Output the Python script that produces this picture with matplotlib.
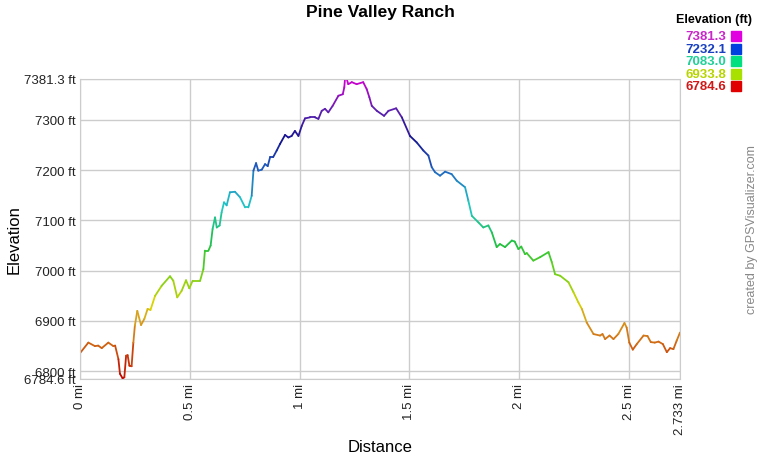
import numpy as np
import matplotlib
matplotlib.use("Agg")
import matplotlib.pyplot as plt
from matplotlib.collections import LineCollection
from matplotlib.colors import LinearSegmentedColormap, Normalize

# profile (distance in miles, elevation in ft)
dist = [0.0, 0.038, 0.068, 0.083, 0.099, 0.129, 0.152, 0.16, 0.175, 0.182, 0.194,
        0.202, 0.21, 0.217, 0.225, 0.235, 0.243, 0.25, 0.261, 0.278, 0.293, 0.308,
        0.321, 0.342, 0.372, 0.41, 0.425, 0.443, 0.463, 0.483, 0.498, 0.513, 0.547,
        0.562, 0.569, 0.585, 0.595, 0.604, 0.615, 0.623, 0.636, 0.645, 0.656, 0.668,
        0.683, 0.706, 0.729, 0.752, 0.767, 0.782, 0.79, 0.802, 0.812, 0.828, 0.843,
        0.855, 0.866, 0.88, 0.896, 0.911, 0.934, 0.949, 0.964, 0.979, 0.995, 1.01,
        1.025, 1.048, 1.07, 1.086, 1.101, 1.116, 1.131, 1.151, 1.177, 1.197, 1.204,
        1.207, 1.215, 1.222, 1.238, 1.26, 1.29, 1.306, 1.318, 1.329, 1.352, 1.385,
        1.405, 1.44, 1.466, 1.503, 1.534, 1.564, 1.587, 1.602, 1.617, 1.64, 1.663,
        1.693, 1.716, 1.754, 1.769, 1.785, 1.815, 1.837, 1.86, 1.876, 1.898, 1.913,
        1.936, 1.967, 1.98, 1.997, 2.01, 2.027, 2.035, 2.065, 2.096, 2.134, 2.149,
        2.164, 2.187, 2.225, 2.248, 2.27, 2.286, 2.308, 2.339, 2.369, 2.38, 2.392,
        2.412, 2.43, 2.452, 2.48, 2.49, 2.502, 2.518, 2.536, 2.567, 2.585, 2.6,
        2.618, 2.635, 2.655, 2.673, 2.688, 2.703, 2.718, 2.733]
elev = [6836, 6857, 6850, 6851, 6846, 6857, 6850, 6851, 6824, 6795, 6786,
        6788, 6831, 6832, 6811, 6810, 6857, 6891, 6920, 6892, 6904, 6924,
        6922, 6950, 6970, 6989, 6980, 6947, 6960, 6981, 6965, 6980, 6980,
        7003, 7040, 7040, 7050, 7083, 7106, 7086, 7090, 7116, 7136, 7130,
        7156, 7157, 7146, 7126, 7126, 7149, 7199, 7214, 7199, 7201, 7212,
        7208, 7226, 7226, 7239, 7252, 7270, 7265, 7268, 7278, 7268, 7288,
        7303, 7305, 7305, 7302, 7318, 7322, 7315, 7328, 7348, 7351, 7365,
        7381, 7381, 7371, 7375, 7371, 7375, 7361, 7345, 7328, 7318, 7308,
        7318, 7323, 7305, 7268, 7255, 7239, 7229, 7206, 7196, 7189, 7197,
        7192, 7179, 7166, 7139, 7109, 7096, 7086, 7090, 7076, 7047, 7053,
        7047, 7060, 7058, 7043, 7048, 7033, 7035, 7020, 7027, 7037, 7017,
        6993, 6990, 6977, 6957, 6937, 6924, 6897, 6874, 6871, 6874, 6864,
        6871, 6864, 6874, 6896, 6887, 6857, 6843, 6854, 6871, 6870, 6858,
        6857, 6859, 6854, 6838, 6846, 6844, 6861, 6877]

y_ticks = [6784.6, 6800, 6900, 7000, 7100, 7200, 7300, 7381.3]
y_labels = ["6784.6 ft", "6800 ft", "6900 ft", "7000 ft", "7100 ft", "7200 ft", "7300 ft", "7381.3 ft"]
x_ticks = [0, 0.5, 1, 1.5, 2, 2.5, 2.733]
x_labels = ["0 mi", "0.5 mi", "1 mi", "1.5 mi", "2 mi", "2.5 mi", "2.733 mi"]

legend_vals = ["7381.3", "7232.1", "7083.0", "6933.8", "6784.6"]
legend_box = ["#e000e0", "#0040e0", "#00e080", "#a8e000", "#e00000"]
legend_txt = ["#c828c8", "#1840c0", "#20d098", "#b8d400", "#d01818"]

ymin, ymax = 6784.6, 7381.3

plt.rcParams['font.family'] = ['Liberation Sans', 'DejaVu Sans']

# elevation colour scale, red at the bottom to magenta at the top
cmap = LinearSegmentedColormap.from_list("elev", [
    (0.0, "#c00000"), (0.12, "#d06a14"), (0.2, "#d8a020"), (0.25, "#d8d400"),
    (0.37, "#60d020"), (0.45, "#20c040"), (0.58, "#20c8c8"), (0.7, "#2060c0"),
    (0.8, "#141490"), (0.9, "#6020b0"), (1.0, "#d000d0")])

fig = plt.figure(figsize=(7.6, 4.6), dpi=100)
ax = fig.add_axes([80 / 760, 80 / 460, 600 / 760, 300 / 460])

x = np.array(dist)
y = np.array(elev, dtype=float)
pts = np.column_stack([x, y]).reshape(-1, 1, 2)
segs = np.concatenate([pts[:-1], pts[1:]], axis=1)
lc = LineCollection(segs, cmap=cmap, norm=Normalize(ymin, ymax), linewidth=1.3,
                    capstyle='round', joinstyle='round')
lc.set_array((y[:-1] + y[1:]) / 2)
ax.add_collection(lc)

ax.set_xlim(0, 2.733)
ax.set_ylim(ymin, ymax)
ax.set_yticks(y_ticks)
ax.set_yticklabels(y_labels, fontsize=9.5)
ax.set_xticks(x_ticks)
ax.set_xticklabels(x_labels, fontsize=9.5, rotation=90)
ax.tick_params(length=0, pad=3, colors='#222222')
ax.grid(True, color='#cccccc', linewidth=1)
ax.set_axisbelow(True)
for s in ax.spines.values():
    s.set_color('#cccccc')

fig.text(380 / 760, 1 - 448 / 460, "Distance", ha='center', va='center', fontsize=12)
fig.text(14 / 760, 1 - 240 / 460, "Elevation", ha='center', va='center',
         rotation=90, fontsize=12)
fig.text(380 / 760, 1 - 13 / 460, "Pine Valley Ranch", ha='center', va='center',
         fontsize=12.5, fontweight='bold')

# legend
fig.text(752 / 760, 1 - 20 / 460, "Elevation (ft)", ha='right', va='center',
         fontsize=9, fontweight='bold')
for i, v in enumerate(legend_vals):
    yy = 1 - (37 + i * 12.6) / 460
    fig.text(726 / 760, yy, v, ha='right', va='center', fontsize=9.5,
             fontweight='bold', color=legend_txt[i])
    fig.patches.append(plt.Rectangle((731 / 760, yy - 5 / 460), 10 / 760, 10 / 460,
                                     transform=fig.transFigure, color=legend_box[i]))

fig.text(752 / 760, 1 - 230 / 460, "created by GPSVisualizer.com", rotation=90,
         ha='center', va='center', fontsize=9, color='#888888')

plt.savefig("out.png", dpi=100)
